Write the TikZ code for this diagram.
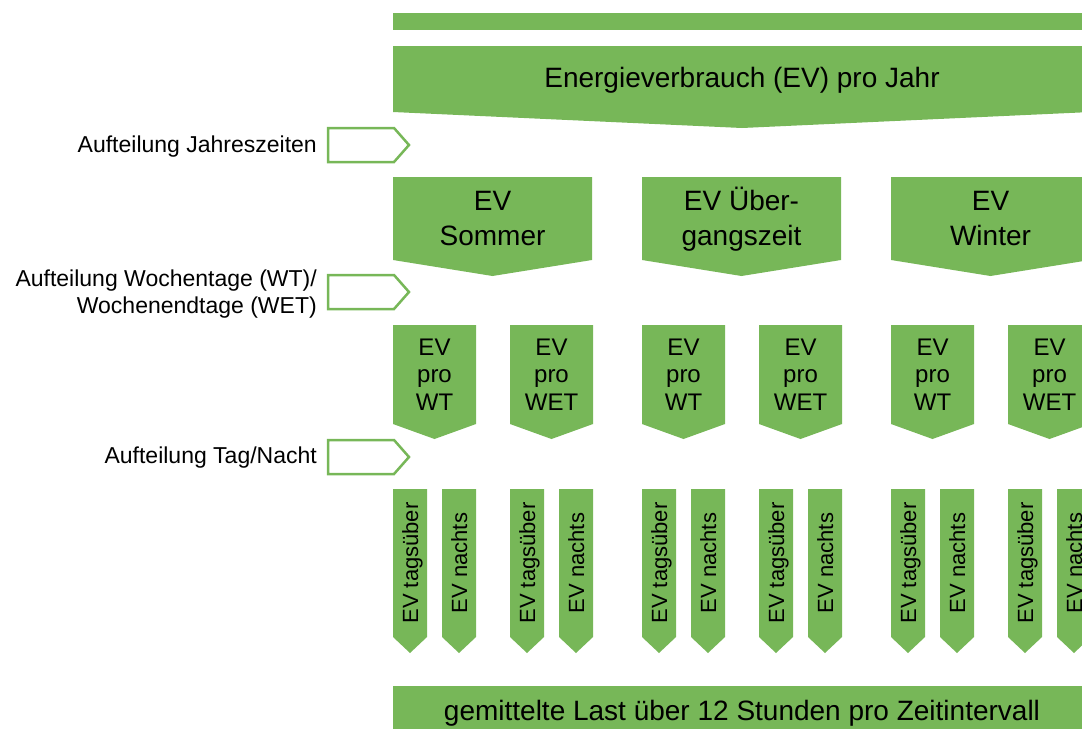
\documentclass[tikz,border=0pt]{standalone}
\usepackage{fontspec}
\setmainfont{Liberation Sans}

\definecolor{gruen}{RGB}{119,183,88}

% Kasten mit Spitze nach unten: links, oben, Breite, Hoehe, Spitze
\newcommand{\pfeilkasten}[5]{%
  \fill[gruen] (#1,#2) -- ++(#3,0) -- ++(0,#4) -- ++(-#3/2,#5) -- ++(-#3/2,-#5) -- cycle;}
% Umriss-Pfeil fuer die Aufteilung: oben
\newcommand{\schrittpfeil}[1]{%
  \draw[gruen, line width=2.5pt] (328,#1) -- (394,#1) -- (409,#1+17) -- (394,#1+34) -- (328,#1+34) -- cycle;}

\tikzset{
  titel/.style={font=\fontsize{28}{35}\selectfont, anchor=base, inner sep=0pt},
  saison/.style={titel, align=center},
  wtext/.style={font=\fontsize{24}{27.5}\selectfont, anchor=base, inner sep=0pt, align=center},
  streifen/.style={font=\fontsize{22}{26}\selectfont, anchor=base, inner sep=0pt, rotate=90},
  links/.style={font=\fontsize{23}{27}\selectfont, anchor=base east, inner sep=0pt, align=right}
}

\begin{document}
\begin{tikzpicture}[x=1pt, y=-1pt]
        \clip (0,0) rectangle (1082,729);

        %Jahr
        \fill[gruen] (393,13) rectangle (1082,30);
        \pfeilkasten{393}{46}{698}{66}{16}
        \node[titel] (jahr) at (742,87) {Energieverbrauch (EV) pro Jahr};

        %Jahreszeiten
        \schrittpfeil{128}
        \node[links] (jz) at (317,152) {Aufteilung Jahreszeiten};
        \foreach \l/\name/\txt in {393/sommer/{EV\\Sommer}, 642/uebergang/{EV Über-\\gangszeit}, 891/winter/{EV\\Winter}}{
            \pfeilkasten{\l}{177}{199}{83}{16}
            \node[saison] (\name) at (\l+99.5,245) {\txt};
        }

        %Wochentage / Wochenendtage
        \schrittpfeil{275}
        \node[links] (wt) at (317,313) {Aufteilung Wochentage (WT)/\\Wochenendtage (WET)};
        \foreach \l/\name/\txt in {393/wt1/WT, 510/wet1/WET, 642/wt2/WT, 759/wet2/WET, 891/wt3/WT, 1008/wet3/WET}{
            \pfeilkasten{\l}{325}{83}{99}{15}
            \node[wtext] (\name) at (\l+41.5,410) {EV\\pro\\\txt};
        }

        %Tag / Nacht
        \schrittpfeil{440}
        \node[links] (tn) at (317,463) {Aufteilung Tag/Nacht};
        \foreach \l [count=\i] in {393,510,642,759,891,1008}{
            \pfeilkasten{\l}{489}{34}{148}{16}
            \pfeilkasten{\l+49}{489}{34}{148}{16}
            \node[streifen] (tag\i) at (\l+25,563) {EV tagsüber};
            \node[streifen] (nacht\i) at (\l+74,563) {EV nachts};
        }

        %Ergebnis
        \fill[gruen] (393,686) rectangle (1082,729);
        \node[titel] (last) at (742,720) {gemittelte Last über 12 Stunden pro Zeitintervall};
\end{tikzpicture}
\end{document}
